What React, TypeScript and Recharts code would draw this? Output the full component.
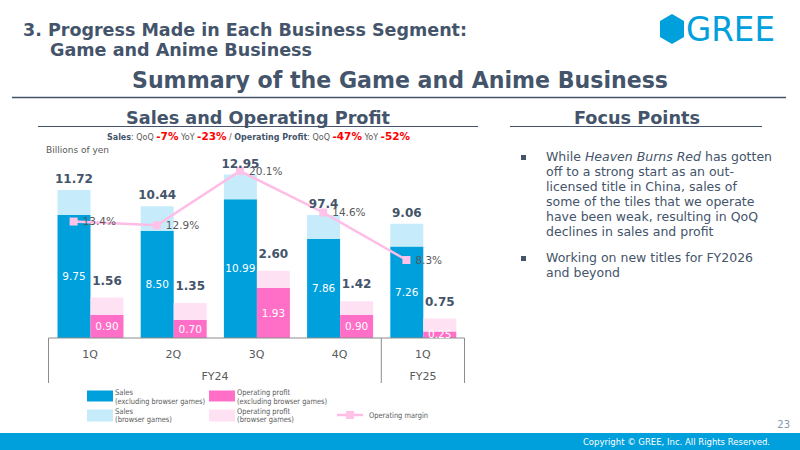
import React from 'react';
import { ComposedChart, Bar, Line, XAxis, YAxis, LabelList } from 'recharts';

const quarters = ['1Q', '2Q', '3Q', '4Q', '1Q'];
const fiscalYears = ['FY24', 'FY24', 'FY24', 'FY24', 'FY25'];
const salesExcl = [9.75, 8.5, 10.99, 7.86, 7.26];
const salesTotal = [11.72, 10.44, 12.95, 9.74, 9.06];
const salesTotalLabels = ['11.72', '10.44', '12.95', '97.4', '9.06'];
const profitExcl = [0.9, 0.7, 1.93, 0.9, 0.25];
const profitTotal = [1.56, 1.35, 2.6, 1.42, 0.75];
const operatingMargin = [13.4, 12.9, 20.1, 14.6, 8.3];

const data = quarters.map((q, i) => ({
  key: fiscalYears[i] + ' ' + q,
  idx: i,
  salesExcl: salesExcl[i],
  salesBrowser: +(salesTotal[i] - salesExcl[i]).toFixed(2),
  salesLabel: salesTotalLabels[i],
  profitExcl: profitExcl[i],
  profitBrowser: +(profitTotal[i] - profitExcl[i]).toFixed(2),
  profitLabel: profitTotal[i].toFixed(2),
  margin: operatingMargin[i],
}));

const SLATE = '#44546A';
const GRAY = '#595959';
const BLUE = '#00A0DC';
const LIGHT_BLUE = '#C6ECFB';
const PINK = '#FF6EC7';
const LIGHT_PINK = '#FFE1F4';
const LINE_PINK = '#FFBCE6';
const HALF = 41.6;

const CategoryTick = (props: any) => {
  const { x, y, payload } = props;
  const i = payload && payload.index != null ? payload.index : props.index;
  const fy = fiscalYears[i];
  const isStart = i === 0 || fiscalYears[i - 1] !== fy;
  const isEnd = i === fiscalYears.length - 1;
  let groupLabel: any = null;
  if (isStart) {
    let last = i;
    while (last + 1 < fiscalYears.length && fiscalYears[last + 1] === fy) last++;
    const mid = (i + last) / 2;
    groupLabel = (
      <text x={x + (mid - i) * 2 * HALF} y={y + 42} textAnchor="middle" fontSize={11} fill={GRAY}>
        {fy}
      </text>
    );
  }
  return (
    <g>
      <text x={x} y={y + 19.5} textAnchor="middle" fontSize={11} fill={GRAY}>
        {quarters[i]}
      </text>
      {isStart && <line x1={x - HALF} x2={x - HALF} y1={y} y2={y + 45} stroke="#8C8C8C" strokeWidth={1} />}
      {isEnd && <line x1={x + HALF} x2={x + HALF} y1={y} y2={y + 45} stroke="#8C8C8C" strokeWidth={1} />}
      {groupLabel}
    </g>
  );
};

const SquareDot = (p: any) => (
  <rect key={'d' + p.index} x={p.cx - 4} y={p.cy - 4} width={8} height={8} fill="#FFC2E8" />
);

const bodyLines1 = [
  'off to a strong start as an out-',
  'licensed title in China, sales of',
  'some of the tiles that we operate',
  'have been weak, resulting in QoQ',
  'declines in sales and profit',
];

const LegendText = ({ x, y, children, w }: any) => (
  <text x={x} y={y} fontSize={7.8} fill={GRAY} textLength={w} lengthAdjust="spacingAndGlyphs">
    {children}
  </text>
);

export default function App() {
  return (
    <div
      style={{
        position: 'absolute',
        left: 0,
        top: 0,
        width: 800,
        height: 450,
        background: '#fff',
        overflow: 'hidden',
        fontFamily: '"DejaVu Sans", Verdana, sans-serif',
      }}
    >
      <svg width={800} height={450} style={{ position: 'absolute', left: 0, top: 0 }}>
        <text x={23} y={36} fontSize={18} fontWeight="bold" fill={SLATE} textLength={444} lengthAdjust="spacingAndGlyphs">
          3. Progress Made in Each Business Segment:
        </text>
        <text x={50} y={56} fontSize={18} fontWeight="bold" fill={SLATE} textLength={262} lengthAdjust="spacingAndGlyphs">
          Game and Anime Business
        </text>
        <polygon points="672,14 684,21 684,37 672,44 660,37 660,21" fill={BLUE} />
        <text x={686} y={41} fontSize={33} fill={BLUE} textLength={89} lengthAdjust="spacingAndGlyphs">
          GREE
        </text>
        <text x={132} y={88} fontSize={23} fontWeight="bold" fill={SLATE} textLength={536} lengthAdjust="spacingAndGlyphs">
          Summary of the Game and Anime Business
        </text>
        <line x1={12} x2={786} y1={97.5} y2={97.5} stroke={SLATE} strokeWidth={1.5} />

        <text x={126} y={124} fontSize={18} fontWeight="bold" fill={SLATE} textLength={264} lengthAdjust="spacingAndGlyphs">
          Sales and Operating Profit
        </text>
        <line x1={38} x2={478} y1={126.5} y2={126.5} stroke={SLATE} strokeWidth={1.2} />
        <text x={574} y={124} fontSize={18} fontWeight="bold" fill={SLATE} textLength={126} lengthAdjust="spacingAndGlyphs">
          Focus Points
        </text>
        <line x1={510} x2={762} y1={126.5} y2={126.5} stroke={SLATE} strokeWidth={1.2} />

        <text x={107} y={140} fontSize={8} fill={GRAY} textLength={303} lengthAdjust="spacingAndGlyphs">
          <tspan fontWeight="bold" fill={SLATE}>Sales</tspan>
          <tspan>{': QoQ '}</tspan>
          <tspan fontWeight="bold" fill="#FF0000" fontSize={10.5}>-7%</tspan>
          <tspan>{' YoY '}</tspan>
          <tspan fontWeight="bold" fill="#FF0000" fontSize={10.5}>-23%</tspan>
          <tspan>{' / '}</tspan>
          <tspan fontWeight="bold" fill={SLATE}>Operating Profit</tspan>
          <tspan>{': QoQ '}</tspan>
          <tspan fontWeight="bold" fill="#FF0000" fontSize={10.5}>-47%</tspan>
          <tspan>{' YoY '}</tspan>
          <tspan fontWeight="bold" fill="#FF0000" fontSize={10.5}>-52%</tspan>
        </text>
        <text x={46} y={153} fontSize={9} fill={GRAY}>Billions of yen</text>

        <rect x={521} y={155} width={5} height={5} fill={SLATE} />
        <text x={546} y={161} fontSize={12.5} fill={SLATE}>
          <tspan>{'While '}</tspan>
          <tspan fontStyle="italic">Heaven Burns Red</tspan>
          <tspan>{' has gotten'}</tspan>
        </text>
        {bodyLines1.map((t, i) => (
          <text key={t} x={546} y={176 + i * 15} fontSize={12.5} fill={SLATE}>{t}</text>
        ))}
        <rect x={521} y={256} width={5} height={5} fill={SLATE} />
        <text x={546} y={262} fontSize={12.5} fill={SLATE}>Working on new titles for FY2026</text>
        <text x={546} y={277} fontSize={12.5} fill={SLATE}>and beyond</text>

        {/* legend */}
        <rect x={87} y={390.5} width={26} height={11} fill={BLUE} />
        <LegendText x={115} y={395} w={18}>Sales</LegendText>
        <LegendText x={115} y={403.5} w={90}>(excluding browser games)</LegendText>
        <rect x={209} y={390.5} width={26} height={11} fill={PINK} />
        <LegendText x={237} y={395} w={53}>Operating profit</LegendText>
        <LegendText x={237} y={403.5} w={90}>(excluding browser games)</LegendText>
        <rect x={87} y={409.5} width={26} height={12} fill={LIGHT_BLUE} />
        <LegendText x={115} y={413.5} w={18}>Sales</LegendText>
        <LegendText x={115} y={422} w={57}>(browser games)</LegendText>
        <rect x={209} y={409.5} width={26} height={12} fill={LIGHT_PINK} />
        <LegendText x={237} y={413.5} w={53}>Operating profit</LegendText>
        <LegendText x={237} y={422} w={57}>(browser games)</LegendText>
        <line x1={337} x2={363} y1={415} y2={415} stroke={LINE_PINK} strokeWidth={2.5} />
        <rect x={346} y={411} width={8} height={8} fill="#FFC2E8" />
        <LegendText x={369} y={418} w={59}>Operating margin</LegendText>

        <text x={790} y={428} fontSize={10} fill="#8497B0" textAnchor="end">23</text>
        <rect x={0} y={433} width={800} height={17} fill={BLUE} />
        <text x={770} y={445} fontSize={8.5} fill="#fff" textAnchor="end">
          Copyright © GREE, Inc. All Rights Reserved.
        </text>
      </svg>

      <div style={{ position: 'absolute', left: 0, top: 0 }}>
        <ComposedChart
          width={800}
          height={450}
          data={data}
          margin={{ top: 148.7, right: 335.5, bottom: 66, left: 48.5 }}
          barGap={0}
        >
          <XAxis
            xAxisId="cat"
            dataKey="key"
            type="category"
            height={46}
            tickLine={false}
            tickSize={0}
            tickMargin={0}
            axisLine={{ stroke: '#8C8C8C' }}
            tick={<CategoryTick />}
            interval={0}
          />
          <XAxis xAxisId="num" dataKey="idx" type="number" domain={[-0.302, 4.698]} allowDataOverflow hide />
          <YAxis yAxisId="sales" type="number" domain={[0, 15]} allowDataOverflow hide />
          <YAxis yAxisId="profit" type="number" domain={[0, 7.31]} allowDataOverflow hide />
          <YAxis yAxisId="margin" type="number" domain={[-2.04, 23.06]} allowDataOverflow hide />

          <Bar xAxisId="cat" yAxisId="sales" dataKey="salesExcl" stackId="sales" fill={BLUE} barSize={33} isAnimationActive={false}>
            <LabelList dataKey="salesExcl" position="center" fill="#fff" fontSize={10.5} formatter={(v: any) => Number(v).toFixed(2)} />
          </Bar>
          <Bar xAxisId="cat" yAxisId="sales" dataKey="salesBrowser" stackId="sales" fill={LIGHT_BLUE} barSize={33} isAnimationActive={false}>
            <LabelList dataKey="salesLabel" position="top" offset={7} fill={SLATE} fontSize={12} fontWeight="bold" />
          </Bar>
          <Bar xAxisId="cat" yAxisId="profit" dataKey="profitExcl" stackId="profit" fill={PINK} barSize={33} isAnimationActive={false}>
            <LabelList dataKey="profitExcl" position="center" fill="#fff" fontSize={10.5} formatter={(v: any) => Number(v).toFixed(2)} />
          </Bar>
          <Bar xAxisId="cat" yAxisId="profit" dataKey="profitBrowser" stackId="profit" fill={LIGHT_PINK} barSize={33} isAnimationActive={false}>
            <LabelList dataKey="profitLabel" position="top" offset={13} fill={SLATE} fontSize={12} fontWeight="bold" />
          </Bar>
          <Line
            xAxisId="num"
            yAxisId="margin"
            dataKey="margin"
            stroke={LINE_PINK}
            strokeWidth={2.5}
            dot={SquareDot}
            activeDot={false}
            isAnimationActive={false}
          >
            <LabelList dataKey="margin" position="right" offset={9} fill={GRAY} fontSize={10.5} formatter={(v: any) => Number(v).toFixed(1) + '%'} />
          </Line>
        </ComposedChart>
      </div>
    </div>
  );
}
